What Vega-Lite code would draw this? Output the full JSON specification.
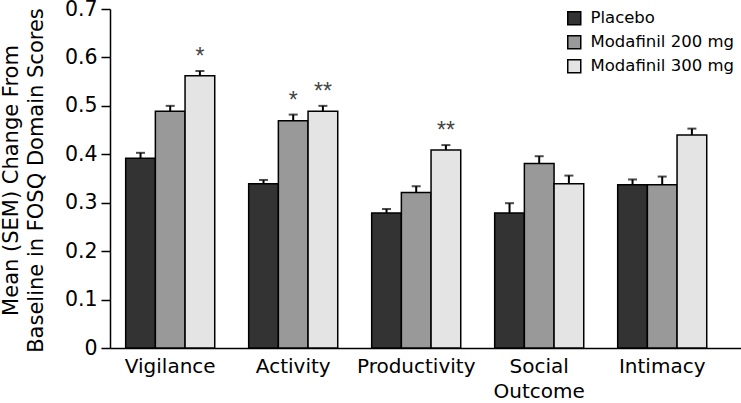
{
  "$schema": "https://vega.github.io/schema/vega-lite/v6.json",
  "autosize": "none",
  "width": 631,
  "height": 339,
  "padding": {"left": 110, "top": 9, "right": 0, "bottom": 55},
  "background": "white",
  "config": {
    "view": {"stroke": null},
    "font": "DejaVu Sans"
  },
  "data": {
    "values": [
      {"domain": "Vigilance", "group": "Placebo", "value": 0.392, "hi": 0.403, "sig": ""},
      {"domain": "Vigilance", "group": "Modafinil 200 mg", "value": 0.489, "hi": 0.500, "sig": ""},
      {"domain": "Vigilance", "group": "Modafinil 300 mg", "value": 0.562, "hi": 0.572, "sig": "*"},
      {"domain": "Activity", "group": "Placebo", "value": 0.339, "hi": 0.347, "sig": ""},
      {"domain": "Activity", "group": "Modafinil 200 mg", "value": 0.469, "hi": 0.482, "sig": "*"},
      {"domain": "Activity", "group": "Modafinil 300 mg", "value": 0.489, "hi": 0.500, "sig": "**"},
      {"domain": "Productivity", "group": "Placebo", "value": 0.279, "hi": 0.287, "sig": ""},
      {"domain": "Productivity", "group": "Modafinil 200 mg", "value": 0.321, "hi": 0.334, "sig": ""},
      {"domain": "Productivity", "group": "Modafinil 300 mg", "value": 0.409, "hi": 0.419, "sig": "**"},
      {"domain": "Social Outcome", "group": "Placebo", "value": 0.279, "hi": 0.299, "sig": ""},
      {"domain": "Social Outcome", "group": "Modafinil 200 mg", "value": 0.381, "hi": 0.396, "sig": ""},
      {"domain": "Social Outcome", "group": "Modafinil 300 mg", "value": 0.339, "hi": 0.356, "sig": ""},
      {"domain": "Intimacy", "group": "Placebo", "value": 0.337, "hi": 0.348, "sig": ""},
      {"domain": "Intimacy", "group": "Modafinil 200 mg", "value": 0.337, "hi": 0.354, "sig": ""},
      {"domain": "Intimacy", "group": "Modafinil 300 mg", "value": 0.440, "hi": 0.453, "sig": ""}
    ]
  },
  "encoding": {
    "x": {
      "field": "domain", "type": "nominal",
      "sort": ["Vigilance", "Activity", "Productivity", "Social Outcome", "Intimacy"],
      "scale": {"paddingInner": 0.276, "paddingOuter": 0.203, "align": 0.314},
      "axis": {
        "title": null, "labelAngle": 0, "ticks": false,
        "domainColor": "black", "domainWidth": 1.5,
        "labelFont": "DejaVu Sans", "labelFontSize": 20, "labelColor": "black",
        "labelPadding": 8, "labelBaseline": "top", "labelLineHeight": 25,
        "labelExpr": "datum.label == 'Social Outcome' ? ['Social', 'Outcome'] : datum.label"
      }
    },
    "xOffset": {
      "field": "group", "type": "nominal",
      "sort": ["Placebo", "Modafinil 200 mg", "Modafinil 300 mg"],
      "scale": {"paddingInner": 0, "paddingOuter": 0}
    }
  },
  "layer": [
    {
      "mark": {"type": "bar", "stroke": "black", "strokeWidth": 1.5},
      "encoding": {
        "y": {
          "field": "value", "type": "quantitative",
          "scale": {"domain": [0, 0.7], "nice": false},
          "axis": {
            "values": [0, 0.1, 0.2, 0.3, 0.4, 0.5, 0.6, 0.7],
            "labelExpr": "datum.value == 0 ? '0' : format(datum.value, '.1f')",
            "grid": false, "domainColor": "black", "domainWidth": 1.5,
            "tickColor": "black", "tickWidth": 1.5, "tickSize": 9,
            "labelFont": "DejaVu Sans", "labelFontSize": 20.5, "labelColor": "black",
            "labelPadding": 4,
            "title": ["Mean (SEM) Change From", "Baseline in FOSQ Domain Scores"],
            "titleFont": "DejaVu Sans", "titleFontSize": 21, "titleFontWeight": "normal",
            "titleColor": "black", "titleLineHeight": 25, "titleBaseline": "top",
            "titleX": -110, "titleY": 171, "titleAngle": -90, "titleAlign": "center"
          }
        },
        "color": {
          "field": "group", "type": "nominal",
          "sort": ["Placebo", "Modafinil 200 mg", "Modafinil 300 mg"],
          "scale": {"domain": ["Placebo", "Modafinil 200 mg", "Modafinil 300 mg"], "range": ["#333333", "#999999", "#e4e4e4"]},
          "legend": {
            "title": null, "orient": "none", "legendX": 456, "legendY": 1,
            "symbolType": "square", "symbolSize": 169, "symbolStrokeColor": "black",
            "symbolStrokeWidth": 1.5, "symbolOpacity": 1,
            "labelFont": "DejaVu Sans", "labelFontSize": 16.5, "labelColor": "black",
            "labelOffset": 8, "rowPadding": 4, "padding": 0
          }
        }
      }
    },
    {
      "mark": {"type": "rule", "color": "black", "strokeWidth": 2},
      "encoding": {
        "y": {"field": "value", "type": "quantitative"},
        "y2": {"field": "hi"}
      }
    },
    {
      "mark": {"type": "tick", "color": "black", "thickness": 2, "size": 9, "orient": "horizontal"},
      "encoding": {
        "y": {"field": "hi", "type": "quantitative"}
      }
    },
    {
      "transform": [{"filter": "datum.sig != ''"}],
      "mark": {"type": "text", "baseline": "alphabetic", "dy": -7, "fontSize": 23, "color": "#444444", "font": "Liberation Sans"},
      "encoding": {
        "y": {"field": "hi", "type": "quantitative"},
        "text": {"field": "sig"}
      }
    }
  ]
}
